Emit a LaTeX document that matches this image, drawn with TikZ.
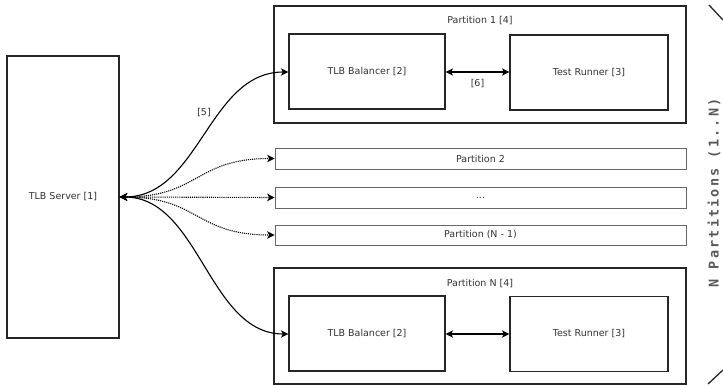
\documentclass[tikz,border=0pt]{standalone}
\usepackage{fontspec}
\setmainfont{DejaVu Sans}
\newfontfamily\monofont[LetterSpace=16]{DejaVu Sans Mono}
\usetikzlibrary{arrows.meta}
\begin{document}
\begin{tikzpicture}[x=1pt,y=-1pt,
  box/.style={draw=black!85, line width=1.2pt, inner sep=0pt, font=\fontsize{9.5}{11}\selectfont, text=black!80},
  thin box/.style={draw=black!60, line width=0.7pt, inner sep=0pt, font=\fontsize{9.5}{11}\selectfont, text=black!80},
  lbl/.style={font=\fontsize{9.5}{11}\selectfont, text=black!80, inner sep=0pt},
  conn/.style={line width=1.1pt, {Stealth[length=7.5pt,width=7.5pt,inset=2pt]}-{Stealth[length=7.5pt,width=7.5pt,inset=2pt]}},
  dconn/.style={conn, densely dotted}
]
\useasboundingbox (0,0) rectangle (723,385);

\node[box, minimum width=112pt, minimum height=282pt] (srv) at (63,197) {TLB Server [1]};

\node[box, minimum width=412pt, minimum height=117pt] (p1) at (480,64.5) {};
\node[lbl] (p1t) at (480,21) {Partition 1 [4]};
\node[box, minimum width=156pt, minimum height=75pt] (bal1) at (367,71.5) {TLB Balancer [2]};
\node[box, minimum width=158pt, minimum height=75pt] (run1) at (589,72.5) {Test Runner [3]};

\node[thin box, minimum width=411pt, minimum height=21pt] (p2) at (480.5,158.5) {Partition 2};
\node[thin box, minimum width=411pt, minimum height=21pt] (pd) at (480.5,197.5) {...};
\node[thin box, minimum width=411pt, minimum height=20pt] (pn1) at (480.5,235) {Partition (N - 1)};

\node[box, minimum width=412pt, minimum height=116pt] (pn) at (480,326) {};
\node[lbl] (pnt) at (480,284) {Partition N [4]};
\node[box, minimum width=156pt, minimum height=75pt] (baln) at (367,333.5) {TLB Balancer [2]};
\node[box, minimum width=158pt, minimum height=75pt] (runn) at (589,334) {Test Runner [3]};

\draw[conn] (bal1.east |- 0,72) -- (run1.west |- 0,72) node[lbl, midway, below=7pt] (l6) {[6]};
\draw[conn] (baln.east |- 0,334) -- (runn.west |- 0,334);

\coordinate (s) at (srv.east |- 0,197);
\draw[conn] (s) .. controls +(80,0) and +(-80,0) .. (bal1.west |- 0,72);
\draw[conn] (s) .. controls +(80,0) and +(-80,0) .. (baln.west |- 0,334);
\draw[dconn] (s) .. controls +(80,0) and +(-80,0) .. (p2.west);
\draw[dconn] (s) -- (pd.west);
\draw[dconn] (s) .. controls +(80,0) and +(-80,0) .. (pn1.west);
\node[lbl] (l5) at (204,113) {[5]};

\node[rotate=90, font={\monofont\bfseries\fontsize{13.5}{15}\selectfont}, text=black!65, inner sep=0pt] (np) at (714,193) {N Partitions (1..N)};
\coordinate (b1) at (709,5);
\coordinate (b2) at (723,20);
\coordinate (b3) at (708,384);
\coordinate (b4) at (723,370);
\draw[line width=1.3pt, black!85] (b1) -- (b2);
\draw[line width=1.3pt, black!85] (b3) -- (b4);
\end{tikzpicture}
\end{document}
